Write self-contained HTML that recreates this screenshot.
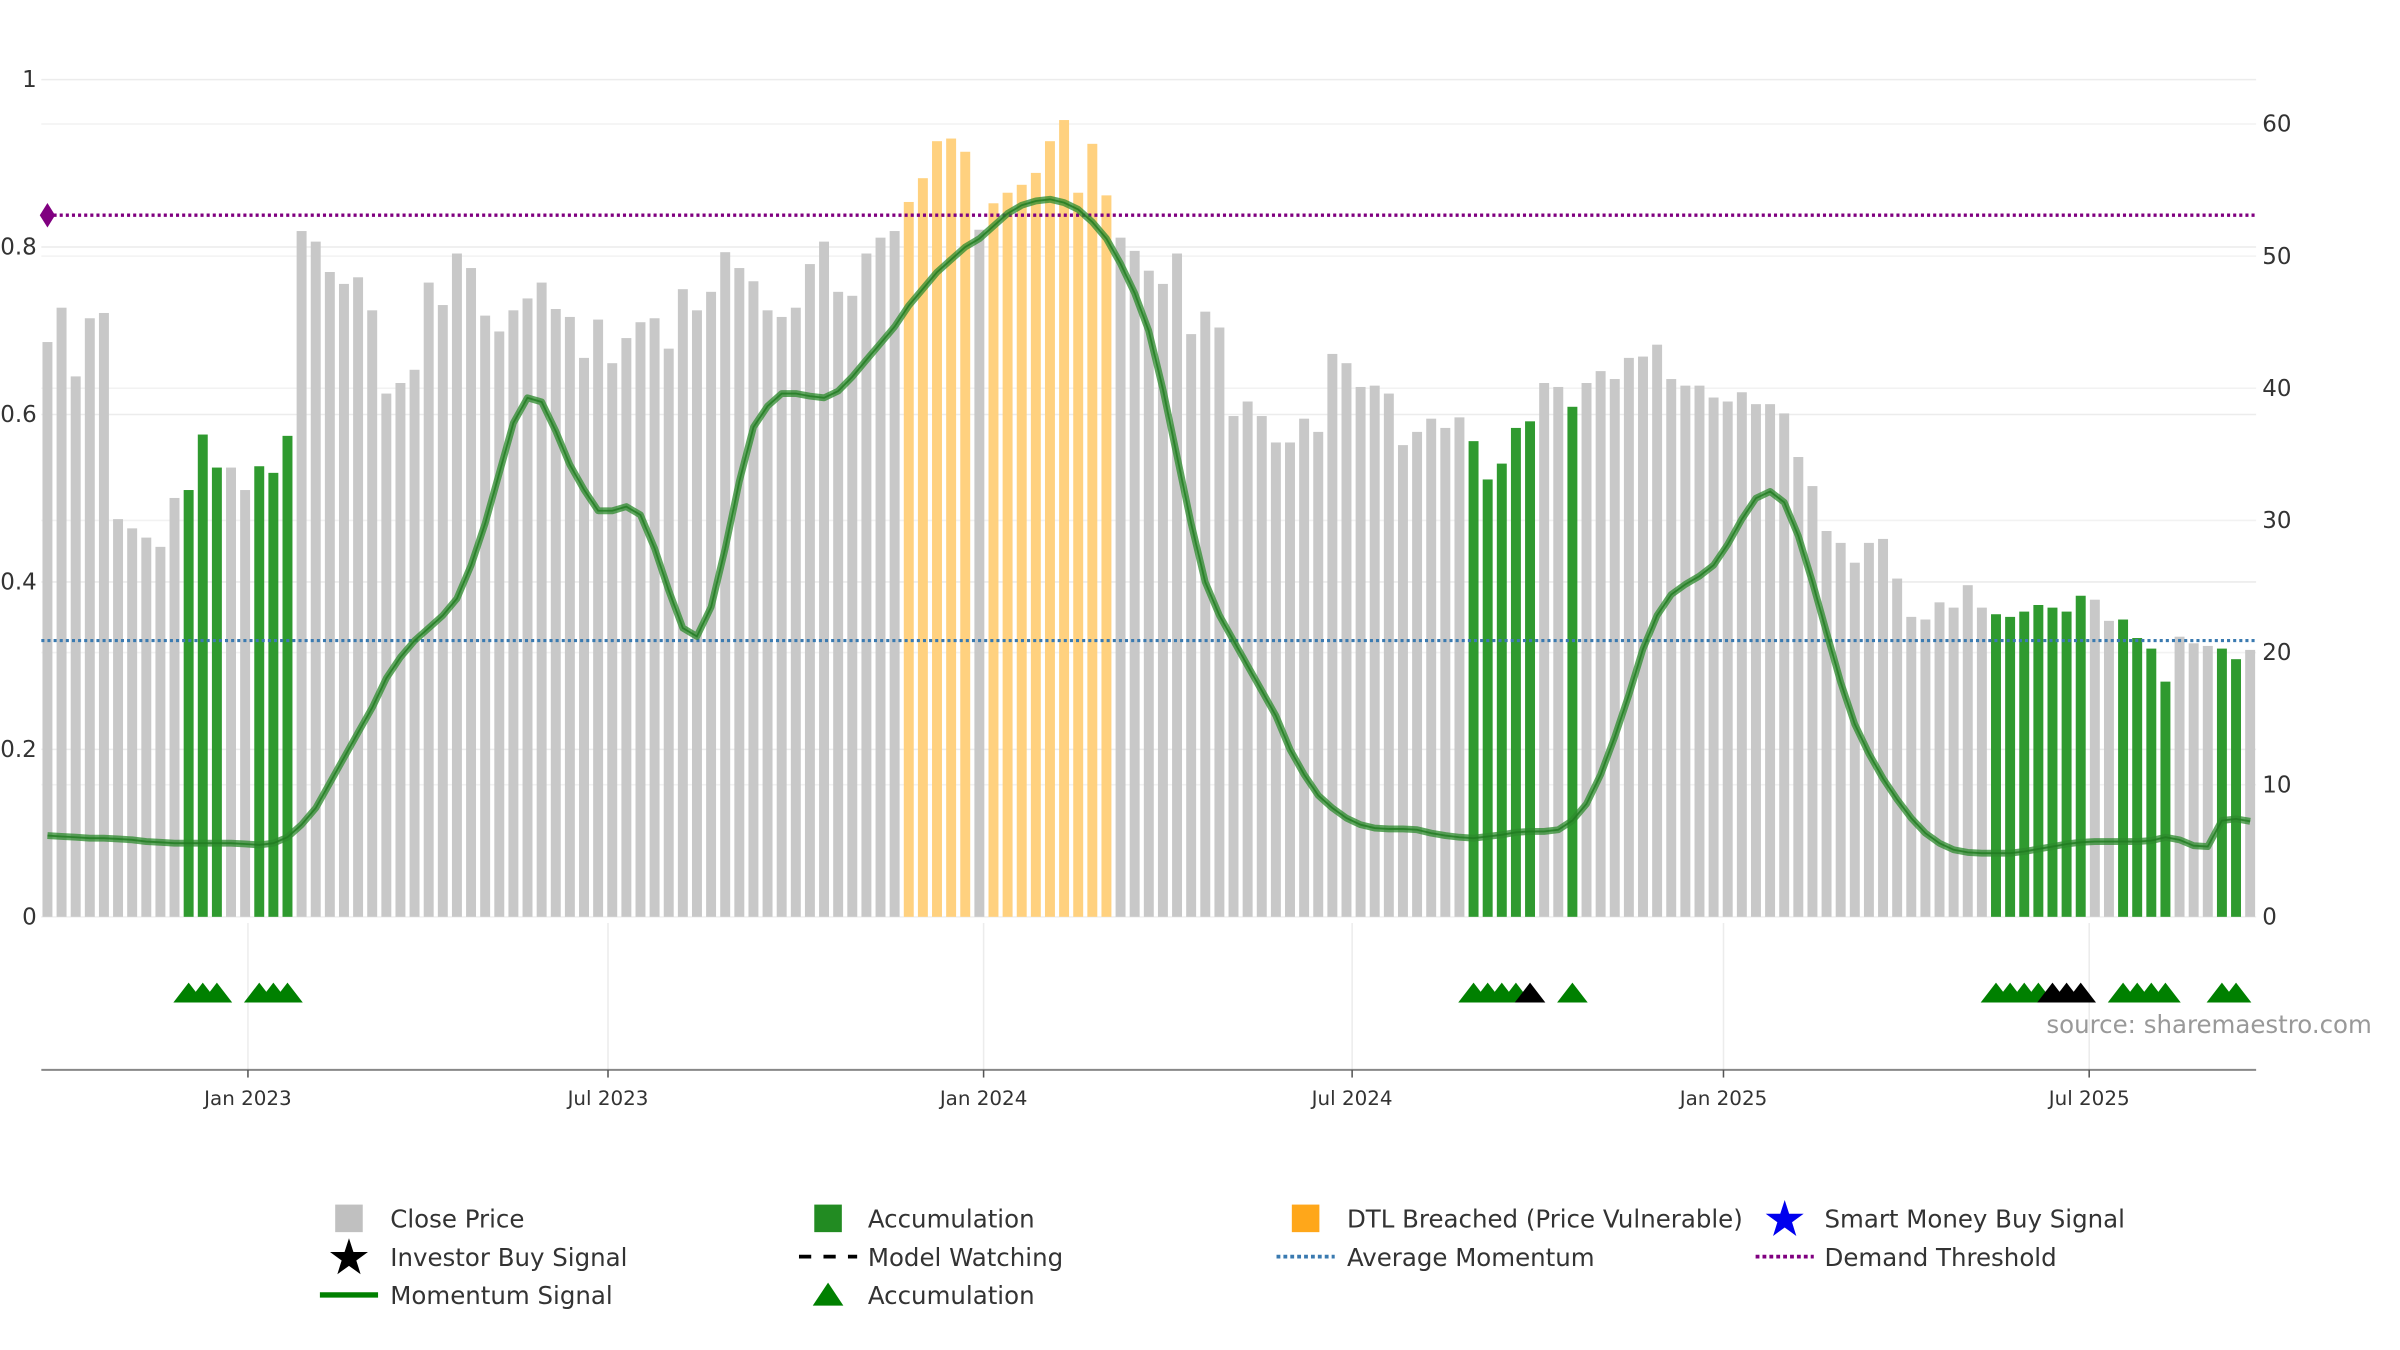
<!DOCTYPE html>
<html><head><meta charset="utf-8">
<style>
html,body{margin:0;padding:0;background:#fff;}
svg{display:block;font-family:"DejaVu Sans","Liberation Sans",sans-serif;}
</style></head>
<body>
<svg id="chart" width="2400" height="1350" viewBox="0 0 1568 882" xmlns="http://www.w3.org/2000/svg">
<g id="grid"></g>
<g id="bars"></g>
<g id="lines"></g>
<g id="axes"></g>
<g id="legend"></g>
</svg>
<script>
const closePrice = [43.5,46.1,40.9,45.3,45.7,30.1,29.4,28.7,28.0,31.7,32.3,36.5,34.0,34.0,32.3,34.1,33.6,36.4,51.9,51.1,48.8,47.9,48.4,45.9,39.6,40.4,41.4,48.0,46.3,50.2,49.1,45.5,44.3,45.9,46.8,48.0,46.0,45.4,42.3,45.2,41.9,43.8,45.0,45.3,43.0,47.5,45.9,47.3,50.3,49.1,48.1,45.9,45.4,46.1,49.4,51.1,47.3,47.0,50.2,51.4,51.9,54.1,55.9,58.7,58.9,57.9,52.0,54.0,54.8,55.4,56.3,58.7,60.3,54.8,58.5,54.6,51.4,50.4,48.9,47.9,50.2,44.1,45.8,44.6,37.9,39.0,37.9,35.9,35.9,37.7,36.7,42.6,41.9,40.1,40.2,39.6,35.7,36.7,37.7,37.0,37.8,36.0,33.1,34.3,37.0,37.5,40.4,40.1,38.6,40.4,41.3,40.7,42.3,42.4,43.3,40.7,40.2,40.2,39.3,39.0,39.7,38.8,38.8,38.1,34.8,32.6,29.2,28.3,26.8,28.3,28.6,25.6,22.7,22.5,23.8,23.4,25.1,23.4,22.9,22.7,23.1,23.6,23.4,23.1,24.3,24.0,22.4,22.5,21.1,20.3,17.8,21.2,20.7,20.5,20.3,19.5,20.2];
const momentum = [0.097,0.096,0.095,0.094,0.094,0.093,0.092,0.090,0.089,0.088,0.088,0.088,0.088,0.088,0.087,0.086,0.088,0.095,0.11,0.13,0.16,0.19,0.22,0.25,0.285,0.31,0.33,0.345,0.36,0.38,0.42,0.47,0.53,0.59,0.62,0.615,0.58,0.54,0.51,0.485,0.485,0.49,0.48,0.44,0.39,0.345,0.335,0.37,0.44,0.52,0.585,0.61,0.625,0.625,0.622,0.62,0.628,0.645,0.665,0.685,0.705,0.73,0.75,0.77,0.785,0.8,0.81,0.825,0.84,0.85,0.855,0.857,0.853,0.845,0.83,0.81,0.78,0.745,0.7,0.63,0.55,0.47,0.4,0.36,0.33,0.3,0.27,0.24,0.2,0.17,0.145,0.13,0.118,0.11,0.106,0.105,0.105,0.104,0.1,0.097,0.095,0.094,0.096,0.098,0.101,0.102,0.102,0.104,0.115,0.135,0.17,0.215,0.265,0.32,0.36,0.385,0.397,0.407,0.42,0.445,0.475,0.5,0.508,0.495,0.455,0.4,0.34,0.28,0.23,0.195,0.165,0.14,0.118,0.1,0.088,0.08,0.077,0.076,0.076,0.076,0.078,0.081,0.084,0.087,0.089,0.09,0.09,0.09,0.09,0.091,0.095,0.092,0.085,0.084,0.115,0.117,0.114];
const accumulationWeeks = [10,11,12,15,16,17,101,102,103,104,105,108,138,139,140,141,142,143,144,147,148,149,150,154,155];
const investorBuyWeeks = [105,142,143,144];
const dtlWeeks = [61,62,63,64,65,67,68,69,70,71,72,73,74,75];
const dateTickWeeks = [14.2,39.7,66.3,92.4,118.7,144.6];
const dateTickLabels = ["Jan 2023","Jul 2023","Jan 2024","Jul 2024","Jan 2025","Jul 2025"];
const leftTicks = [0,0.2,0.4,0.6,0.8,1];
const leftTickLabels = ["0","0.2","0.4","0.6","0.8","1"];
const rightTicks = [0,10,20,30,40,50,60];
const averageMomentum = 0.33;
const demandThreshold = 0.838;

const NS="http://www.w3.org/2000/svg";
const X0=31, DX=9.225, PLOT_L=27, PLOT_R=1474, BASE=599;
const xAt=i=>X0+i*DX;
const yL=v=>BASE-v*547;
const yR=v=>BASE-v*8.633;
function mk(tag,attrs,parent){const e=document.createElementNS(NS,tag);for(const k in attrs)e.setAttribute(k,attrs[k]);parent.appendChild(e);return e;}
const grid=document.getElementById('grid'),bars=document.getElementById('bars'),lines=document.getElementById('lines'),axes=document.getElementById('axes'),legend=document.getElementById('legend');

// grid
leftTicks.forEach(t=>{const l=mk('line',{x1:PLOT_L,x2:PLOT_R,y1:yL(t),y2:yL(t),stroke:'#ececec','stroke-width':1},grid);

});
rightTicks.forEach(t=>{const l=mk('line',{x1:PLOT_L,x2:PLOT_R,y1:yR(t),y2:yR(t),stroke:'#f2f2f2','stroke-width':1},grid);

});
dateTickWeeks.forEach(w=>{const l=mk('line',{x1:xAt(w),x2:xAt(w),y1:603,y2:699,stroke:'#ececec','stroke-width':1},grid);

});

// bars
closePrice.forEach((v,i)=>{
  let fill='#c8c8c8',name='close-price-bar';
  if(accumulationWeeks.includes(i)){fill='#2f9a2f';name='accumulation-bar';}
  else if(dtlWeeks.includes(i)){fill='#ffd17f';name='dtl-breached-bar';}
  const r=mk('rect',{x:xAt(i)-3.25,y:yR(v),width:6.5,height:BASE-yR(v),fill:fill},bars);
  
  
});

// threshold lines
let dl=mk('line',{x1:PLOT_L,x2:PLOT_R,y1:yL(demandThreshold),y2:yL(demandThreshold),stroke:'#800080','stroke-width':2.2,'stroke-dasharray':'2,2'},lines);


let dm=mk('path',{d:`M${PLOT_L-1},${yL(demandThreshold)} l5,-8 l5,8 l-5,8 z`,fill:'#800080'},lines);


let al=mk('line',{x1:PLOT_L,x2:PLOT_R,y1:yL(averageMomentum),y2:yL(averageMomentum),stroke:'#3a7ab0','stroke-width':2,'stroke-dasharray':'2,2'},lines);



// momentum line
const pts=momentum.map((v,i)=>xAt(i).toFixed(1)+','+yL(v).toFixed(1)).join(' ');
let m1=mk('polyline',{points:pts,fill:'none',stroke:'#2e8b2e','stroke-width':4.5,'stroke-opacity':0.75,'stroke-linejoin':'round'},lines);


let m2=mk('polyline',{points:pts,fill:'none',stroke:'#1f7a1f','stroke-width':1.2,'stroke-opacity':0.8},lines);



// triangles
accumulationWeeks.forEach(i=>{
  const black=investorBuyWeeks.includes(i);
  const x=xAt(i);
  const t=mk('path',{d:`M${x-10},655 L${x},642 L${x+10},655 Z`,fill:black?'#000':'#008000'},lines);
  
  
});

// axes
let ax=mk('line',{x1:PLOT_L,x2:PLOT_R,y1:699,y2:699,stroke:'#888','stroke-width':1.3},axes);


dateTickWeeks.forEach((w,k)=>{
  const tk=mk('line',{x1:xAt(w),x2:xAt(w),y1:699,y2:704,stroke:'#555','stroke-width':1},axes);
  
  
  const t=mk('text',{x:xAt(w),y:722,'text-anchor':'middle','font-size':13,fill:'#333'},axes);
  t.textContent=dateTickLabels[k];
  
  
});
leftTicks.forEach((v,k)=>{
  const t=mk('text',{x:24,y:yL(v)+5,'text-anchor':'end','font-size':15,fill:'#333'},axes);
  t.textContent=leftTickLabels[k];
  
  
});
rightTicks.forEach(v=>{
  const t=mk('text',{x:1478,y:yR(v)+5,'text-anchor':'start','font-size':15,fill:'#333'},axes);
  t.textContent=String(v);
  
  
});
let src=mk('text',{x:1337,y:675,'font-size':16,fill:'#999'},axes);
src.textContent='source: sharemaestro.com';



// legend
function legItem(mx,tx,y,label,kind,name){
  const g=mk('g',{},legend);
  
  
  if(kind==='grayRect')mk('rect',{x:mx-9,y:y-9,width:18,height:18,fill:'#c0c0c0'},g);
  if(kind==='greenRect')mk('rect',{x:mx-9,y:y-9,width:18,height:18,fill:'#228b22'},g);
  if(kind==='orangeRect')mk('rect',{x:mx-9,y:y-9,width:18,height:18,fill:'#ffa71a'},g);
  if(kind==='blueStar'||kind==='blackStar'){
    const c=kind==='blueStar'?'#0000ee':'#000';let p='';
    for(let k=0;k<10;k++){const r=k%2?5:13;const a=-Math.PI/2+k*Math.PI/5;p+=(k?'L':'M')+(mx+r*Math.cos(a)).toFixed(1)+','+(y+1+r*Math.sin(a)).toFixed(1);}
    mk('path',{d:p+'Z',fill:c},g);
  }
  if(kind==='dash')mk('line',{x1:mx-19,x2:mx+19,y1:y,y2:y,stroke:'#000','stroke-width':2.5,'stroke-dasharray':'8,8','stroke-dashoffset':0},g);
  if(kind==='blueDot')mk('line',{x1:mx-19,x2:mx+19,y1:y,y2:y,stroke:'#3a7ab0','stroke-width':2.5,'stroke-dasharray':'2.5,2'},g);
  if(kind==='purpleDot')mk('line',{x1:mx-19,x2:mx+19,y1:y,y2:y,stroke:'#800080','stroke-width':2.5,'stroke-dasharray':'2.5,2'},g);
  if(kind==='greenLine')mk('line',{x1:mx-19,x2:mx+19,y1:y,y2:y,stroke:'#008000','stroke-width':3.5},g);
  if(kind==='tri')mk('path',{d:`M${mx-10},${y+7} L${mx},${y-8} L${mx+10},${y+7} Z`,fill:'#008000'},g);
  const t=mk('text',{x:tx,y:y+6,'font-size':16,fill:'#333'},g);
  t.textContent=label;
}
legItem(228,255,796,'Close Price','grayRect','legend-close-price');
legItem(541,567,796,'Accumulation','greenRect','legend-accumulation-bar');
legItem(853,880,796,'DTL Breached (Price Vulnerable)','orangeRect','legend-dtl-breached');
legItem(1166,1192,796,'Smart Money Buy Signal','blueStar','legend-smart-money');
legItem(228,255,821,'Investor Buy Signal','blackStar','legend-investor-buy');
legItem(541,567,821,'Model Watching','dash','legend-model-watching');
legItem(853,880,821,'Average Momentum','blueDot','legend-average-momentum');
legItem(1166,1192,821,'Demand Threshold','purpleDot','legend-demand-threshold');
legItem(228,255,846,'Momentum Signal','greenLine','legend-momentum-signal');
legItem(541,567,846,'Accumulation','tri','legend-accumulation-triangle');
</script>
</body></html>
